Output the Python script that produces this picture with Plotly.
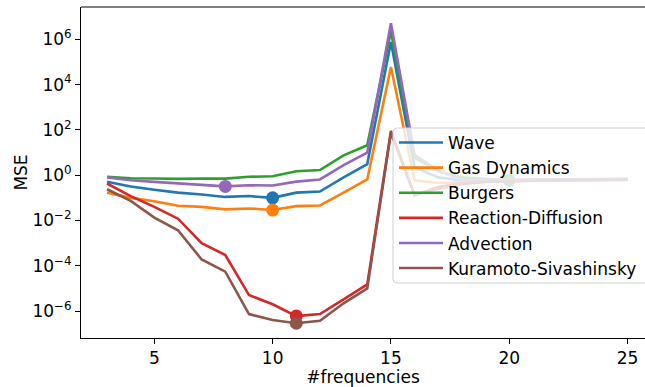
import numpy as np
import plotly.graph_objects as go

freqs = list(range(3, 26))

wave = [0.51, 0.32, 0.23, 0.17, 0.14, 0.11, 0.12, 0.10, 0.17, 0.19, 0.8, 3.1, 7.6e5,
        2.3, 0.8, 0.58, 0.56, 0.6, 0.62, 0.63, 0.64, 0.65, 0.66]
gas_dynamics = [0.17, 0.10, 0.071, 0.045, 0.04, 0.031, 0.034, 0.029, 0.043, 0.046, 0.17, 0.65, 6e4,
                0.6, 0.45, 0.5, 0.55, 0.57, 0.6, 0.61, 0.62, 0.63, 0.64]
burgers = [0.85, 0.74, 0.72, 0.69, 0.72, 0.71, 0.85, 0.9, 1.5, 1.7, 7.5, 21, 2.3e6,
           6.0, 1.5, 0.8, 0.7, 0.6, 0.63, 0.65, 0.66, 0.67, 0.68]
reaction_diffusion = [0.43, 0.12, 0.04, 0.012, 1.0e-3, 3e-4, 5.1e-6, 2.0e-6, 6e-7, 7.4e-7, 3.3e-6, 1.5e-5, 90,
                      0.13, 0.3, 0.45, 0.52, 0.56, 0.58, 0.6, 0.61, 0.62, 0.63]
advection = [0.8, 0.6, 0.51, 0.43, 0.39, 0.32, 0.36, 0.35, 0.52, 0.65, 2.8, 10, 5.2e6,
             8.0, 1.6, 0.6, 0.62, 0.64, 0.65, 0.66, 0.67, 0.68, 0.69]
kuramoto = [0.24, 0.074, 0.0135, 0.0037, 1.9e-4, 5.5e-5, 7.4e-7, 4e-7, 2.9e-7, 3.7e-7, 2.2e-6, 1e-5, 75,
            0.13, 0.25, 0.4, 0.5, 0.55, 0.57, 0.59, 0.6, 0.61, 0.62]

names = ["Wave", "Gas Dynamics", "Burgers", "Reaction-Diffusion", "Advection", "Kuramoto-Sivashinsky"]
series = [wave, gas_dynamics, burgers, reaction_diffusion, advection, kuramoto]
colors = ["#1f77b4", "#ff7f0e", "#2ca02c", "#d62728", "#9467bd", "#8c564b"]

ytick_vals = [1e-6, 1e-4, 1e-2, 1e0, 1e2, 1e4, 1e6]
ytick_text = ["10<sup>\u22126</sup>", "10<sup>\u22124</sup>", "10<sup>\u22122</sup>", "10<sup>0</sup>",
              "10<sup>2</sup>", "10<sup>4</sup>", "10<sup>6</sup>"]
xtick_vals = [5, 10, 15, 20, 25]

FONT = "DejaVu Sans"
FS = 17
W, H = 645, 387
ML, MR, MT, MB = 81, 0, 7, 49
PW, PH = W - ML - MR, H - MT - MB

fig = go.Figure()
for name, vals, col in zip(names, series, colors):
    fig.add_trace(go.Scatter(x=freqs, y=vals, mode="lines", name=name,
                             line=dict(color=col, width=2.6)))
    i = int(np.argmin(vals))
    fig.add_trace(go.Scatter(x=[freqs[i]], y=[vals[i]], mode="markers", showlegend=False,
                             marker=dict(color=col, size=13, line=dict(width=0))))

# legend frame (matplotlib-like rounded, semi-transparent box)
def px_x(p):
    return (p - ML) / PW

def px_y(p):
    return (H - MB - p) / PH

bx0, bx1, by0, by1, r = 393, 660, 128, 283, 4
path = (f"M {px_x(bx0 + r)},{px_y(by0)} L {px_x(bx1)},{px_y(by0)} L {px_x(bx1)},{px_y(by1)} "
        f"L {px_x(bx0 + r)},{px_y(by1)} Q {px_x(bx0)},{px_y(by1)} {px_x(bx0)},{px_y(by1 - r)} "
        f"L {px_x(bx0)},{px_y(by0 + r)} Q {px_x(bx0)},{px_y(by0)} {px_x(bx0 + r)},{px_y(by0)} Z")
fig.add_shape(type="path", path=path, xref="paper", yref="paper", layer="above",
              fillcolor="rgba(255,255,255,0.8)", line=dict(color="#d0d0d0", width=1))

fig.update_layout(
    width=W, height=H,
    margin=dict(l=ML, r=MR, t=MT, b=MB),
    paper_bgcolor="white", plot_bgcolor="white",
    font=dict(family=FONT, size=FS, color="black"),
    showlegend=True,
    legend=dict(x=px_x(394), y=px_y(125), xanchor="left", yanchor="top",
                bgcolor="rgba(0,0,0,0)", borderwidth=0,
                font=dict(family=FONT, size=FS, color="black"),
                itemwidth=44, tracegroupgap=0),
    xaxis=dict(range=[1.9, 25.74], tickvals=xtick_vals, showgrid=False, zeroline=False,
               showline=True, linecolor="black", linewidth=1, mirror=False,
               ticks="outside", ticklen=5, tickcolor="black",
               title=dict(text="#frequencies", standoff=3, font=dict(size=FS))),
    yaxis=dict(type="log", range=[-7.19, 7.43], tickvals=ytick_vals, ticktext=ytick_text,
               showgrid=False, zeroline=False, showline=True, linecolor="black", linewidth=1,
               ticks="outside", ticklen=5, tickcolor="black",
               title=dict(text="MSE", standoff=0, font=dict(size=FS))),
)
# top spine
fig.add_shape(type="line", xref="paper", yref="paper", x0=0, x1=1, y0=1, y1=1,
              line=dict(color="black", width=1))

fig.write_html("out.html")
